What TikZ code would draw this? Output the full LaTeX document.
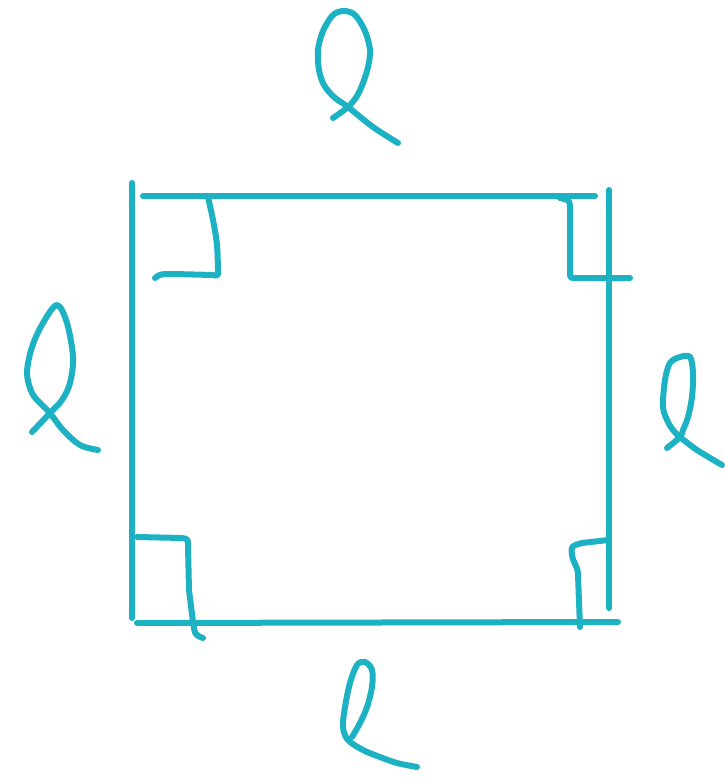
\documentclass[tikz,border=0pt]{standalone}
\definecolor{ink}{RGB}{28,178,196}
\begin{document}
\begin{tikzpicture}[x=1pt,y=-1pt,
  pen/.style={draw=ink,line width=6pt,line cap=round,line join=round},
  hand/.style={pen,smooth,tension=0.55}]
\useasboundingbox (0,0) rectangle (725,780);
% square sides
\draw[pen] (132,183) -- (132,618);
\draw[pen] (143,196) -- (595,196);
\draw[pen] (609,190) -- (609,608);
\draw[pen] (137,623) -- (618,622);
% right-angle marks
\draw[hand] plot coordinates {(208,197) (213,220) (217,245) (218,272)};
\draw[pen] (218,272) .. controls (218,276) .. (212,275) -- (175,274) .. controls (160,274) .. (155,278);
\draw[pen] (560,198) .. controls (570,200) .. (570,212) -- (570,272) .. controls (570,278) .. (576,278) -- (630,278);
\draw[pen] (137,537) -- (182,538) .. controls (188,539) .. (188,546) -- (189,590) -- (193,622) .. controls (195,635) .. (203,638);
\draw[pen] (608,540) -- (582,543) .. controls (571,546) .. (572,555) .. controls (573,563) and (578,566) .. (578,575) -- (580,627);
% script l labels
\draw[hand] plot coordinates {(333,118) (348,107) (357,96) (363,83) (368,67) (370,50) (365,31) (355,15) (344,11) (333,15) (323,31) (318,50) (319,70) (324,85) (334,97) (348,107) (373,127) (398,143)};
\draw[hand] plot coordinates {(32,432) (50,413) (62,400) (70,383) (73,357) (67,323) (57,305) (43,323) (32,347) (27,373) (32,393) (42,405) (50,413) (63,430) (80,445) (98,450)};
\draw[hand] plot coordinates {(667,448) (680,437) (683,430) (688,417) (692,397) (693,373) (690,357) (680,357) (670,363) (665,380) (663,407) (668,422) (673,430) (680,437) (697,450) (722,465)};
\draw[hand] plot coordinates {(352,737) (360,723) (367,707) (372,687) (372,670) (365,662) (357,665) (350,683) (345,707) (343,727) (348,740) (363,750) (380,757) (397,763) (417,767)};
\end{tikzpicture}
\end{document}
